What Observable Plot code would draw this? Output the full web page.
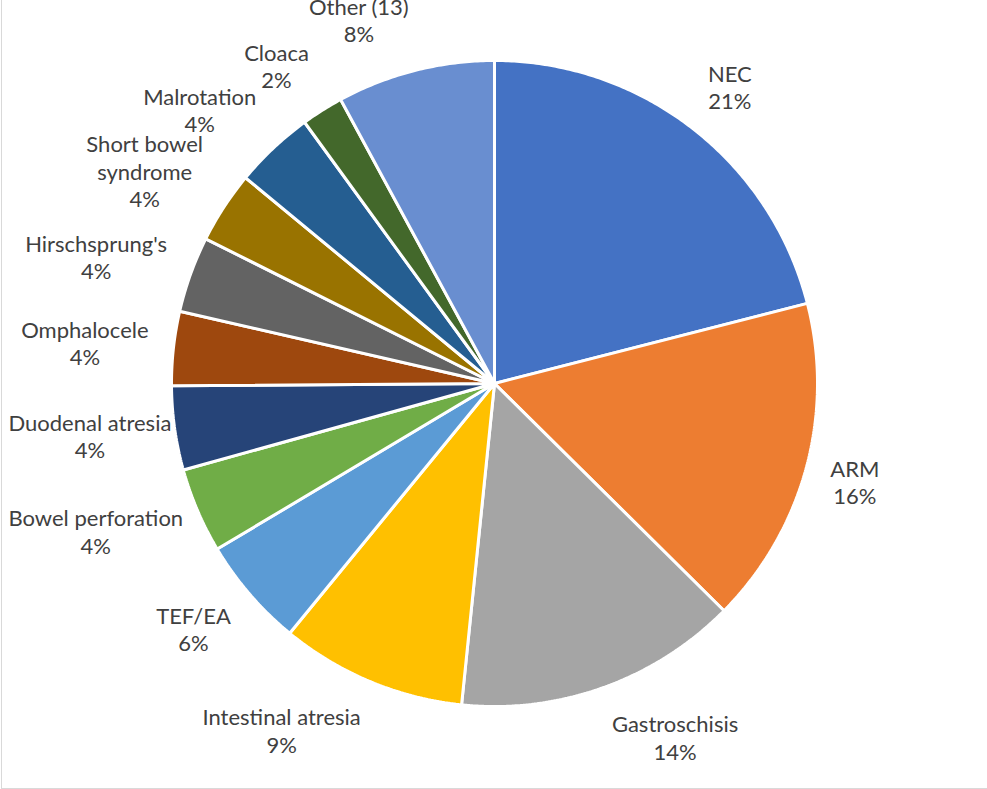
<!DOCTYPE html>
<html>
<head>
<meta charset="utf-8">
<script src="https://cdn.jsdelivr.net/npm/d3@7"></script>
<script src="https://cdn.jsdelivr.net/npm/@observablehq/plot@0.6"></script>
<style>
  html, body { margin: 0; padding: 0; background: #fff; }
  #wrap { position: relative; width: 987px; height: 789px; overflow: hidden; }
  #frame { position: absolute; left: 1px; top: 0; width: 986px; height: 789px;
           border-left: 1px solid #d9d9d9; border-bottom: 1px solid #d9d9d9; box-sizing: border-box; pointer-events: none; }
</style>
</head>
<body>
<div id="wrap"><div id="frame"></div></div>
<script>
// ---- data ----
const categories = ["NEC", "ARM", "Gastroschisis", "Intestinal atresia", "TEF/EA",
  "Bowel perforation", "Duodenal atresia", "Omphalocele", "Hirschsprung's",
  "Short bowel syndrome", "Malrotation", "Cloaca", "Other (13)"];
const values = [21.0, 16.4, 14.2, 9.3, 5.5, 4.25, 4.2, 3.7, 3.8, 3.6, 4.0, 2.1, 7.9];
const colors = ["#4472C4", "#ED7D31", "#A5A5A5", "#FFC000", "#5B9BD5", "#70AD47",
  "#264478", "#9E480E", "#636363", "#997300", "#255E91", "#43682B", "#698ED0"];

// ---- layout ----
const W = 987, H = 789;
const cx = 494, cy = 383, R = 323;
const FONT = "Lato, 'Open Sans', sans-serif";
const FS = 22, LH = 27.5, GAP = 25;

const total = d3.sum(values);
const ctx = document.createElement("canvas").getContext("2d");
ctx.font = `${FS}px ${FONT}`;
const measure = s => ctx.measureText(s).width;

// slices (angles clockwise from 12 o'clock)
let acc = 0;
const slices = categories.map((c, i) => {
  const a0 = acc / total * 2 * Math.PI;
  acc += values[i];
  const a1 = acc / total * 2 * Math.PI;
  return {category: c, value: values[i], a0, a1};
});

// polygon points for each slice, in unit data space (y up)
const slicePts = [];
for (const s of slices) {
  slicePts.push({category: s.category, x: 0, y: 0});
  const n = Math.max(2, Math.ceil((s.a1 - s.a0) / (Math.PI / 360)));
  for (let k = 0; k <= n; k++) {
    const a = s.a0 + (s.a1 - s.a0) * k / n;
    slicePts.push({category: s.category, x: Math.sin(a), y: Math.cos(a)});
  }
}

// wrap long names like Excel
function wrap(name, maxW) {
  if (measure(name) <= maxW) return [name];
  const words = name.split(" ");
  const lines = []; let cur = "";
  for (const w of words) {
    const t = cur ? cur + " " + w : w;
    if (measure(t) > maxW && cur) { lines.push(cur); cur = w; } else cur = t;
  }
  if (cur) lines.push(cur);
  return lines;
}

// outside-end label placement
const labels = slices.map(s => {
  const pct = Math.round(s.value / total * 100) + "%";
  const lines = [...wrap(s.category, 200), pct];
  const w = d3.max(lines, measure);
  const h = lines.length * LH;
  const mid = (s.a0 + s.a1) / 2;
  const ux = Math.sin(mid), uy = -Math.cos(mid);
  const px0 = cx + ux * (R + GAP), py0 = cy + uy * (R + GAP);
  let px = px0 + Math.sign(ux) * w / 2, py = py0 + uy * h / 2;
  if (px - w / 2 < 8) px = 8 + w / 2;
  if (px + w / 2 > W - 8) px = W - 8 - w / 2;
  return {text: lines.join("\n"), x: (px - cx) / R, y: -(py - cy) / R};
});

const chart = Plot.plot({
  width: W, height: H,
  margin: 0,
  style: {background: "transparent", fontFamily: FONT},
  x: {domain: [-1, 1], range: [cx - R, cx + R], axis: null},
  y: {domain: [-1, 1], range: [cy + R, cy - R], axis: null},
  color: {domain: categories, range: colors},
  marks: [
    Plot.line(slicePts, {x: "x", y: "y", z: "category", fill: "category",
      stroke: "white", strokeWidth: 3, curve: "linear-closed", strokeLinejoin: "miter"}),
    Plot.text(labels, {x: "x", y: "y", text: "text", fontSize: FS, lineHeight: LH / FS,
      fill: "#404040", textAnchor: "middle", lineAnchor: "middle"})
  ]
});
document.getElementById("wrap").prepend(chart);
</script>
</body>
</html>
